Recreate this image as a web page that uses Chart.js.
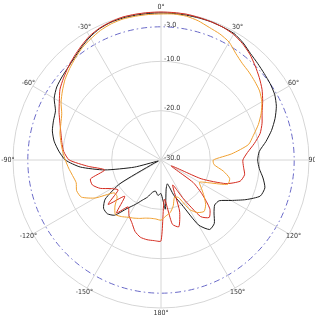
<!DOCTYPE html>
<html>
<head>
<meta charset="utf-8">
<script src="https://cdn.jsdelivr.net/npm/chart.js@4"></script>
<style>
  html, body { margin: 0; padding: 0; background: #fff; }
  #polar { display: block; }
</style>
</head>
<body>
<canvas id="polar" width="315" height="315"></canvas>
<script>
// angles in degrees, clockwise from the top, every 5 deg
const angles = [
  0, 5, 10, 15, 20, 25, 30, 35, 40, 45, 50, 55, 60, 65, 70, 75, 80, 85,
  90, 95, 100, 105, 110, 115, 120, 125, 130, 135, 140, 145, 150, 155, 160, 165, 170, 175,
  180, 185, 190, 195, 200, 205, 210, 215, 220, 225, 230, 235, 240, 245, 250, 255, 260, 265,
  270, 275, 280, 285, 290, 295, 300, 305, 310, 315, 320, 325, 330, 335, 340, 345, 350, 355
];

// gain in dB, one value per angle
const blackGain = [
  -0.2, -0.2, -0.2, -0.2, -0.2, -0.3, -0.4, -1.0, -1.8, -2.3,
  -2.7, -3.0, -3.4, -4.2, -5.4, -6.8, -8.4, -10.0, -10.4, -10.0,
  -9.0, -8.2, -8.6, -11.0, -13.6, -15.6, -15.8, -14.8, -13.2, -12.8,
  -14.8, -20.0, -22.4, -25.0, -24.0, -20.0, -23.2, -22.8, -23.6, -23.2,
  -22.0, -21.0, -19.6, -18.0, -15.4, -14.6, -14.8, -16.2, -20.4, -28.4,
  -29.4, -24.4, -18.4, -13.6, -10.6, -9.2, -8.0, -7.2, -6.8, -6.4,
  -5.0, -4.2, -3.8, -3.4, -2.8, -2.0, -1.2, -0.6, -0.3, -0.2,
  -0.2, -0.2
];

const redGain = [
  0, 0, 0, -0.1, -0.2, -0.3, -0.6, -1.2, -2.0, -3.0,
  -4.0, -5.0, -6.2, -7.4, -8.2, -9.2, -10.8, -12.4, -13.4, -13.2,
  -12.8, -13.4, -16.0, -21.0, -27.6, -22.0, -19.0, -16.0, -14.8, -16.0,
  -21.0, -24.4, -19.0, -16.0, -16.8, -22.0, -13.6, -13.6, -13.6, -13.8,
  -14.6, -16.0, -17.0, -18.4, -16.0, -19.6, -16.0, -19.4, -18.4, -16.4,
  -15.2, -15.2, -18.4, -15.2, -11.4, -10.2, -9.6, -9.0, -8.2, -7.2,
  -6.2, -5.0, -4.2, -3.4, -2.6, -1.8, -1.0, -0.5, -0.2, 0,
  0, 0
];

const orangeGain = [
  -0.4, -0.3, -0.4, -0.8, -1.4, -1.8, -2.4, -3.6, -4.4, -4.8,
  -5.2, -5.6, -6.4, -7.6, -9.0, -10.6, -12.0, -15.6, -19.4, -19.2,
  -17.2, -15.6, -15.6, -19.0, -21.0, -20.0, -18.6, -17.2, -16.4, -17.0,
  -18.4, -21.6, -22.0, -20.4, -19.2, -18.6, -17.8, -18.0, -18.0, -17.8,
  -17.4, -17.0, -16.6, -16.0, -15.6, -16.8, -18.4, -18.4, -14.6, -12.2,
  -11.8, -12.2, -11.8, -11.2, -10.6, -10.0, -9.4, -8.8, -8.4, -7.8,
  -6.6, -5.6, -4.6, -3.8, -3.0, -2.2, -1.6, -1.0, -0.6, -0.4,
  -0.4, -0.4
];

// radial rings and their labels (-3 dB is the dash-dot reference circle)
const ringValues = [-30, -20, -10, -3, 0];
const ringLabels = ['-30.0', '-20.0', '-10.0', '-3.0', ''];

// angle labels every 30 deg
const angleTicks = [0, 30, 60, 90, 120, 150, 180, 210, 240, 270, 300, 330];
const angleLabels = ['0°', '30°', '60°', '90°', '120°', '150°', '180°', '-150°', '-120°', '-90°', '-60°', '-30°'];

const LABEL_FONT = "7px 'Liberation Sans Narrow', 'DejaVu Sans Condensed', 'Liberation Sans', sans-serif";

// text on the polar grid: angle labels round the edge, dB labels beside the 0 deg spoke
const polarText = {
  id: 'polarText',
  beforeDatasetsDraw(chart) {
    const s = chart.scales.r;
    const ctx = chart.ctx;
    ctx.save();
    ctx.font = LABEL_FONT;
    ctx.fillStyle = '#333';
    ctx.textAlign = 'center';
    ctx.textBaseline = 'middle';
    angleTicks.forEach((a, i) => {
      const idx = angles.indexOf(a);
      const p = s.getPointPosition(idx, s.drawingArea + 5);
      ctx.fillText(angleLabels[i], p.x, p.y);
    });
    ctx.textAlign = 'left';
    ringValues.forEach((v, i) => {
      if (!ringLabels[i]) return;
      const d = s.getDistanceFromCenterForValue(v);
      ctx.fillText(ringLabels[i], s.xCenter + 3, s.yCenter - d - 2);
    });
    ctx.restore();
  }
};

function series(label, values, color) {
  return {
    label: label,
    data: values,
    borderColor: color,
    borderWidth: 1,
    pointRadius: 0,
    fill: false,
    tension: 0.2
  };
}

new Chart(document.getElementById('polar'), {
  type: 'radar',
  data: {
    labels: angles,
    datasets: [
      series('orange', orangeGain, '#f0a030'),
      series('red', redGain, '#d42a1e'),
      series('black', blackGain, '#1c1c1c')
    ]
  },
  options: {
    responsive: false,
    animation: false,
    layout: { padding: { left: 13, top: 12, right: 6, bottom: 7 } },
    plugins: {
      legend: { display: false },
      tooltip: { enabled: false }
    },
    scales: {
      r: {
        min: -30,
        max: 0,
        startAngle: 0,
        afterBuildTicks: (scale) => {
          scale.ticks = ringValues.map(v => ({ value: v }));
        },
        ticks: { display: false },
        pointLabels: { display: false },
        grid: {
          circular: true,
          color: (c) => (c.tick && c.tick.value === -3) ? '#6a6ac8' : '#d6d6d6',
          lineWidth: 1
        },
        border: {
          dash: (c) => (c.tick && c.tick.value === -3) ? [6, 3, 1.5, 3] : []
        },
        angleLines: {
          color: '#d6d6d6',
          lineWidth: (c) => angleTicks.includes(angles[c.index]) ? 1 : 0
        }
      }
    }
  },
  plugins: [polarText]
});
</script>
</body>
</html>
